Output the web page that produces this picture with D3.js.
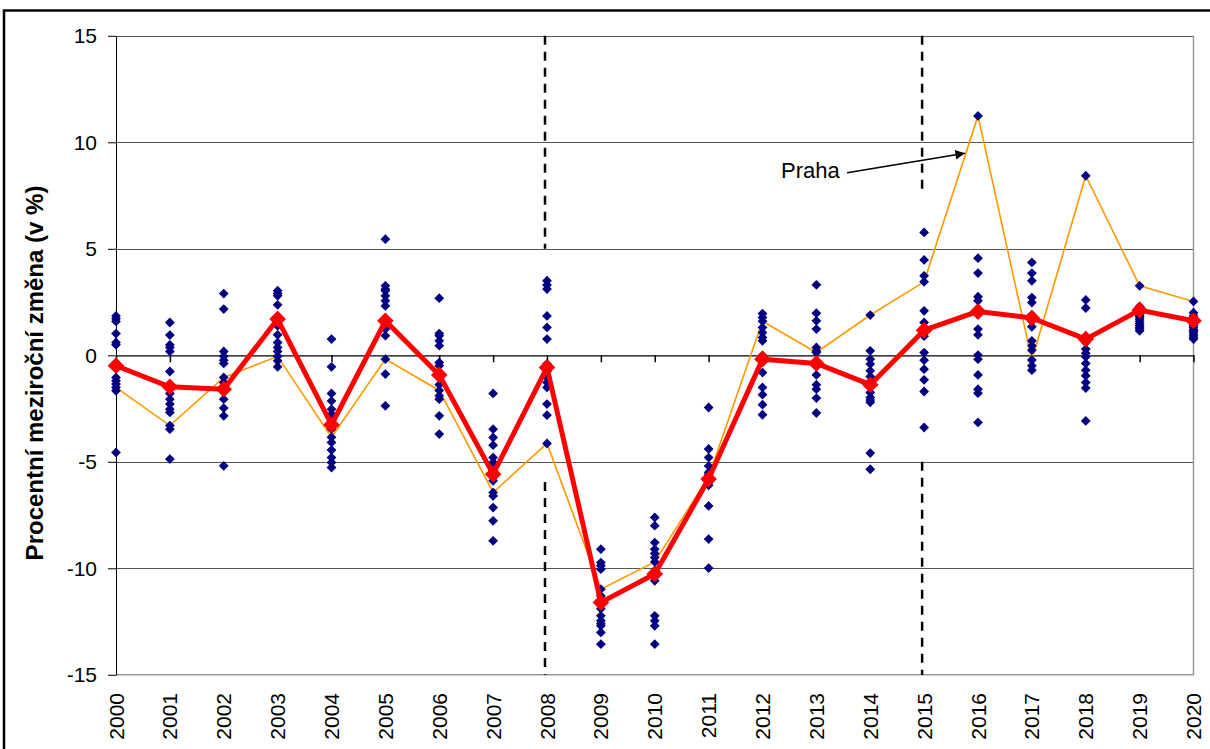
<!DOCTYPE html>
<html>
<head>
<meta charset="utf-8">
<script src="https://cdnjs.cloudflare.com/ajax/libs/d3/7.8.5/d3.min.js"></script>
<style>
    body { margin: 0; background: #fff; }
    svg text { font-family: "Liberation Sans", Arial, sans-serif; }
</style>
</head>
<body>
<div id="chart"></div>
<script>
var years = [2000, 2001, 2002, 2003, 2004, 2005, 2006, 2007, 2008, 2009, 2010,
             2011, 2012, 2013, 2014, 2015, 2016, 2017, 2018, 2019, 2020];

// CR celkem (cervena)
var cr = [-0.49, -1.48, -1.59, 1.70, -3.26, 1.62, -0.92, -5.58, -0.57, -11.6, -10.27,
          -5.81, -0.18, -0.38, -1.38, 1.18, 2.06, 1.75, 0.76, 2.12, 1.62];

// Praha (oranzova)
var praha = [-1.51, -3.3, -1.04, -0.05, -3.85, -0.18, -1.65, -6.44, -4.14, -10.98, -9.7,
             -5.7, 1.6, 0.13, 1.89, 3.45, 11.24, -0.22, 8.43, 3.26, 2.53];

// ostatni kraje, jeden radek na rok
var kraje = [
    [1.85, 1.72, 1.59, 1.02, 0.6, 0.49, -0.35, -0.6, -1.04, -1.2, -1.35, -1.67, -4.56],
    [1.54, 0.95, 0.49, 0.37, 0.18, -0.76, -1.79, -2.06, -2.29, -2.53, -2.68, -3.47, -4.87],
    [2.9, 2.17, 0.18, -0.05, -0.23, -0.38, -1.28, -1.45, -1.7, -2.06, -2.48, -2.84, -5.19],
    [3.03, 2.9, 2.79, 2.37, 1.85, 1.6, 1.38, 0.96, 0.6, 0.37, 0.18, -0.26, -0.54],
    [0.76, -0.54, -1.79, -2.14, -2.53, -2.76, -3.1, -3.47, -4.09, -4.45, -4.8, -5.03, -5.27],
    [5.45, 3.26, 3.1, 3.03, 2.79, 2.56, 2.32, 1.75, 1.5, 1.23, 0.92, -0.88, -2.37],
    [2.68, 1.02, 0.92, 0.68, 0.45, -0.34, -0.49, -0.9, -1.38, -1.9, -2.06, -2.84, -3.7],
    [-1.79, -3.47, -3.86, -4.22, -4.8, -5.03, -5.4, -5.7, -5.89, -6.6, -7.15, -7.77, -8.71],
    [3.5, 3.3, 3.11, 1.85, 1.31, 0.76, -0.4, -0.75, -1.04, -1.28, -1.51, -2.29, -2.81],
    [-9.1, -9.73, -9.88, -10.04, -11.3, -11.6, -11.9, -12.23, -12.46, -12.6, -12.7, -13.01, -13.56],
    [-7.61, -8.0, -8.79, -9.1, -9.3, -9.49, -10.1, -10.4, -10.59, -12.23, -12.46, -12.7, -13.56],
    [-2.45, -4.4, -4.8, -5.2, -5.5, -5.6, -5.8, -5.9, -5.97, -6.1, -7.07, -8.63, -9.99],
    [1.96, 1.78, 1.31, 1.07, 0.84, 0.68, 0.0, -0.3, -0.81, -1.51, -1.85, -2.32, -2.79],
    [3.31, 1.98, 1.62, 1.23, 0.37, 0.2, -0.3, -0.5, -0.92, -1.38, -1.59, -2.01, -2.71],
    [0.21, -0.18, -0.41, -0.73, -1.0, -1.25, -1.5, -1.75, -1.98, -2.1, -2.21, -4.59, -5.35],
    [5.77, 4.48, 3.73, 2.09, 1.54, 1.2, 0.9, 0.13, -0.23, -0.65, -1.15, -1.7, -3.39],
    [4.56, 3.86, 2.75, 2.56, 1.9, 1.23, 0.96, 0.01, -0.18, -0.92, -1.59, -1.78, -3.15],
    [4.36, 3.86, 3.5, 2.71, 2.48, 1.9, 1.6, 1.34, 0.68, 0.45, 0.24, -0.49, -0.7],
    [2.6, 2.22, 0.9, 0.6, 0.29, 0.1, -0.07, -0.38, -0.7, -0.96, -1.28, -1.54, -3.08],
    [2.3, 2.1, 2.0, 1.93, 1.85, 1.8, 1.7, 1.6, 1.49, 1.4, 1.31, 1.25, 1.15],
    [2.0, 1.85, 1.7, 1.6, 1.5, 1.4, 1.31, 1.2, 1.15, 1.07, 0.95, 0.85, 0.76]
];

var yTicks = [-15, -10, -5, 0, 5, 10, 15];

// svisle prerusovane cary: rok, od, do
var breaks = [
    [2008, 15, 5], [2008, -5.95, -15],
    [2015, 15, 7.7], [2015, -5, -15]
];

var svg = d3.select("#chart").append("svg").attr("width", 1210).attr("height", 749),
    plotLeft = 116, plotRight = 1193.5, plotTop = 35.8, plotBottom = 674.8;

var x = d3.scaleLinear().domain([2000, 2020]).range([plotLeft, plotRight]),
    y = d3.scaleLinear().domain([-15, 15]).range([plotBottom, plotTop]);

// ramecek celeho grafu
svg.append("rect")
    .attr("x", 4).attr("y", 10.5)
    .attr("width", 1240).attr("height", 800)
    .attr("fill", "none").attr("stroke", "#000").attr("stroke-width", 2.5);

// mrizka
svg.append("g").selectAll("line")
    .data(yTicks.filter(function(d) { return d !== 0 && d !== -15; }))
    .enter().append("line")
    .attr("x1", plotLeft).attr("x2", plotRight)
    .attr("y1", function(d) { return Math.round(y(d)) + 0.5; })
    .attr("y2", function(d) { return Math.round(y(d)) + 0.5; })
    .attr("stroke", "#555").attr("stroke-width", 1);

// okraj plochy grafu (pravy a spodni)
svg.append("path")
    .attr("d", "M" + plotRight + "," + plotTop + "V" + plotBottom + "H" + plotLeft)
    .attr("fill", "none").attr("stroke", "#999").attr("stroke-width", 1.5);

var yAxis = d3.axisLeft(y).tickValues(yTicks).tickFormat(function(d) { return String(d); })
    .tickSize(8).tickPadding(11).tickSizeOuter(0);
var gy = svg.append("g").attr("transform", "translate(" + plotLeft + ",0)").call(yAxis);
gy.select(".domain").attr("stroke", "#000");
gy.selectAll("text").attr("font-size", 21).attr("fill", "#000");

var xAxis = d3.axisBottom(x).tickValues(years).tickSize(7).tickSizeOuter(0);
var gx = svg.append("g").attr("transform", "translate(0," + y(0) + ")").call(xAxis);
gx.select(".domain").attr("stroke", "#000").attr("stroke-width", 1.2);
gx.selectAll(".tick line").attr("stroke-width", 1.5);
gx.selectAll("text").remove();

svg.append("g").selectAll("text")
    .data(years).enter().append("text")
    .attr("transform", function(d) { return "translate(" + (x(d) + 7.5) + ",693) rotate(-90)"; })
    .attr("text-anchor", "end")
    .attr("font-size", 21)
    .text(function(d) { return d; });

svg.append("text")
    .attr("transform", "translate(43,373) rotate(-90)")
    .attr("text-anchor", "middle")
    .attr("font-size", 24)
    .attr("font-weight", "bold")
    .text("Procentní meziroční změna (v %)");

// prerusovane cary 2008 a 2015
svg.append("g").selectAll("line")
    .data(breaks).enter().append("line")
    .attr("x1", function(d) { return x(d[0]) - 2; })
    .attr("x2", function(d) { return x(d[0]) - 2; })
    .attr("y1", function(d) { return y(d[1]); })
    .attr("y2", function(d) { return y(d[2]); })
    .attr("stroke", "#000").attr("stroke-width", 2.5).attr("stroke-dasharray", "9,7");

var line = d3.line()
    .x(function(d, i) { return x(years[i]); })
    .y(function(d) { return y(d); });

function diamond(r) {
    return "M0," + (-r) + "L" + r + ",0L0," + r + "L" + (-r) + ",0Z";
}

svg.append("path")
    .datum(praha)
    .attr("d", line)
    .attr("fill", "none").attr("stroke", "#FF9900").attr("stroke-width", 1.6);

// body kraju vcetne Prahy
var points = [];
kraje.forEach(function(row, i) {
    row.forEach(function(v) { points.push({year: years[i], value: v}); });
    points.push({year: years[i], value: praha[i]});
});

svg.append("g").selectAll("path")
    .data(points).enter().append("path")
    .attr("transform", function(d) { return "translate(" + x(d.year) + "," + y(d.value) + ")"; })
    .attr("d", diamond(4.9))
    .attr("fill", "#000080");

svg.append("path")
    .datum(cr)
    .attr("d", line)
    .attr("fill", "none").attr("stroke", "#FF0000").attr("stroke-width", 5)
    .attr("stroke-linejoin", "round");

svg.append("g").selectAll("path")
    .data(cr).enter().append("path")
    .attr("transform", function(d, i) { return "translate(" + x(years[i]) + "," + y(d) + ")"; })
    .attr("d", diamond(8.3))
    .attr("fill", "#FF0000");

// popisek Praha se sipkou
svg.append("defs").append("marker")
    .attr("id", "arrow")
    .attr("viewBox", "0 0 10 10")
    .attr("refX", 10).attr("refY", 5)
    .attr("markerWidth", 7).attr("markerHeight", 6)
    .attr("markerUnits", "strokeWidth")
    .attr("orient", "auto")
    .append("path").attr("d", "M0,0L10,5L0,10Z").attr("fill", "#000");

svg.append("line")
    .attr("x1", 847).attr("y1", 172.7)
    .attr("x2", 965).attr("y2", 153.3)
    .attr("stroke", "#000").attr("stroke-width", 1.6)
    .attr("marker-end", "url(#arrow)");

svg.append("text")
    .attr("x", 781).attr("y", 177.5)
    .attr("font-size", 22)
    .text("Praha");
</script>
</body>
</html>
